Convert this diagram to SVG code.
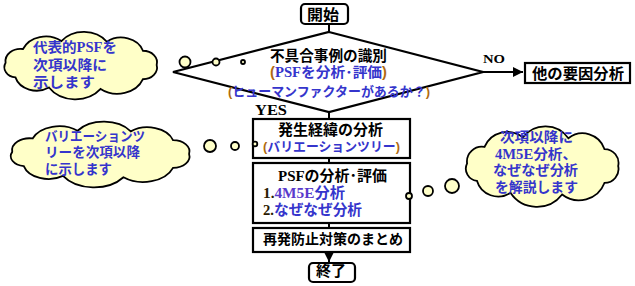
<svg xmlns="http://www.w3.org/2000/svg" xmlns:xlink="http://www.w3.org/1999/xlink" width="635" height="286" viewBox="0 0 635 286">
<style>
.jp{font-family:"Liberation Sans","Noto Sans CJK JP","Noto Sans CJK SC",sans-serif;}
.blk{fill:#000;font-weight:bold;}
.blu{fill:#3535CC;font-weight:bold;}
.lat{font-family:"Liberation Serif","Times New Roman",serif;font-weight:bold;}
.par{fill:#B06A10;}
.pur{fill:#5A3ACC;}
.box{fill:#fff;stroke:#000;stroke-width:2.2;}
.line{fill:none;stroke:#000;stroke-width:2;}
.cl{fill:#FFFFC8;stroke:#000;stroke-width:1.8;}
</style>
<defs>
<path id="cloud" vector-effect="non-scaling-stroke" d="M86,0 A16,16 0 0 1 70.4,19.5 A31,31 0 0 1 22.3,32.8 A36,36 0 0 1 -36.4,30.8 A25,25 0 0 1 -74.5,17 A14,14 0 0 1 -85.7,-3 A17,17 0 0 1 -65.9,-21.9 A28,28 0 0 1 -22.3,-32.8 A32,32 0 0 1 29.4,-31.9 A26,26 0 0 1 70.4,-19.5 A16,16 0 0 1 86,0 Z"/>
<marker id="arr" viewBox="0 0 10 10" refX="10" refY="5" markerWidth="5" markerHeight="5" markerUnits="strokeWidth" orient="auto">
<path d="M0,0 L10,5 L0,10 Z" fill="#000"/>
</marker>
</defs>
<rect width="635" height="286" fill="#fff"/>

<g id="connectors">
<line class="line" x1="329" y1="24" x2="329" y2="32"/>
<line class="line" x1="483" y1="72" x2="523" y2="72" marker-end="url(#arr)"/>
<line class="line" x1="329" y1="112" x2="329" y2="119"/>
<line class="line" x1="329" y1="158" x2="329" y2="163"/>
<line class="line" x1="329" y1="223" x2="329" y2="228"/>
<line class="line" x1="329" y1="252" x2="329" y2="262" marker-end="url(#arr)"/>
<text class="lat" x="483" y="63" font-size="13" textLength="22" lengthAdjust="spacingAndGlyphs">NO</text>
<text class="lat" x="255" y="115" font-size="14" textLength="32" lengthAdjust="spacingAndGlyphs">YES</text>
</g>

<g id="start">
<rect class="box" x="301" y="4" width="47" height="20" rx="4"/>
<text class="jp blk" x="307" y="20" font-size="15" textLength="32" lengthAdjust="spacingAndGlyphs">開始</text>
</g>

<g id="decision">
<path class="box" d="M329,32 L483,72 L329,112 L173,72 Z"/>
<text class="jp blk" x="270" y="60.5" font-size="14.5" textLength="117" lengthAdjust="spacingAndGlyphs">不具合事例の識別</text>
<text class="jp blu" x="270" y="77" font-size="14" textLength="117" lengthAdjust="spacingAndGlyphs"><tspan class="par">(</tspan><tspan class="lat">PSF</tspan>を分析･評価<tspan class="par">)</tspan></text>
<text class="jp blu" x="228" y="95.5" font-size="13" textLength="202" lengthAdjust="spacingAndGlyphs"><tspan class="par">(</tspan>ヒューマンファクターがあるか？<tspan class="par">)</tspan></text>
</g>

<g id="other">
<rect class="box" x="525" y="63" width="105" height="20"/>
<text class="jp blk" x="532" y="78.5" font-size="15" textLength="92" lengthAdjust="spacingAndGlyphs">他の要因分析</text>
</g>

<g id="step1">
<rect class="box" x="253" y="119" width="157" height="39"/>
<text class="jp blk" x="278" y="135" font-size="15" textLength="105" lengthAdjust="spacingAndGlyphs">発生経緯の分析</text>
<text class="jp blu" x="263" y="150.5" font-size="13" textLength="137" lengthAdjust="spacingAndGlyphs"><tspan class="par">(</tspan>バリエーションツリー<tspan class="par">)</tspan></text>
</g>

<g id="step2">
<rect class="box" x="253" y="163" width="157" height="60"/>
<text class="jp blk" x="278" y="181" font-size="14.5" textLength="109" lengthAdjust="spacingAndGlyphs"><tspan class="lat">PSF</tspan>の分析･評価</text>
<text class="jp blu" x="263" y="197.5" font-size="14.5" textLength="82" lengthAdjust="spacingAndGlyphs"><tspan class="lat" fill="#2a1a00">1.</tspan><tspan class="lat pur">4M5E</tspan>分析</text>
<text class="jp blu" x="263" y="215" font-size="14.5" textLength="99" lengthAdjust="spacingAndGlyphs"><tspan class="lat" fill="#2a1a00">2.</tspan>なぜなぜ分析</text>
</g>

<g id="step3">
<rect class="box" x="253" y="228" width="157" height="24"/>
<text class="jp blk" x="263" y="244" font-size="14" textLength="140" lengthAdjust="spacingAndGlyphs">再発防止対策のまとめ</text>
</g>

<g id="end">
<rect class="box" x="309" y="263" width="46" height="19" rx="4"/>
<text class="jp blk" x="316" y="276" font-size="15" textLength="30" lengthAdjust="spacingAndGlyphs">終了</text>
</g>

<g id="note1">
<use xlink:href="#cloud" href="#cloud" class="cl" transform="translate(81,65) scale(0.88,0.73)"/>
<circle class="cl" cx="185" cy="62" r="5.5"/>
<circle class="cl" cx="216" cy="62" r="3.5"/>
<circle class="cl" cx="243" cy="62" r="2"/>
<text class="jp blu" x="33" y="52" font-size="14" textLength="84" lengthAdjust="spacingAndGlyphs">代表的<tspan class="lat">PSF</tspan>を</text>
<text class="jp blu" x="33" y="70" font-size="14" textLength="74" lengthAdjust="spacingAndGlyphs">次項以降に</text>
<text class="jp blu" x="33" y="87" font-size="14" textLength="62" lengthAdjust="spacingAndGlyphs">示します</text>
</g>

<g id="note2">
<use xlink:href="#cloud" href="#cloud" class="cl" transform="translate(100.5,154) scale(1.03,0.71)"/>
<circle class="cl" cx="210" cy="146" r="6"/>
<circle class="cl" cx="235" cy="146" r="4"/>
<circle class="cl" cx="255" cy="144" r="2.3"/>
<text class="jp blu" x="45" y="141" font-size="13.5" textLength="100" lengthAdjust="spacingAndGlyphs">バリエーションツ</text>
<text class="jp blu" x="45" y="157" font-size="13.5" textLength="95" lengthAdjust="spacingAndGlyphs">リーを次項以降</text>
<text class="jp blu" x="45" y="174" font-size="13.5" textLength="67" lengthAdjust="spacingAndGlyphs">に示します</text>
</g>

<g id="note3">
<use xlink:href="#cloud" href="#cloud" class="cl" transform="translate(542.5,166) scale(0.88,0.87)"/>
<circle class="cl" cx="452" cy="186" r="7"/>
<circle class="cl" cx="428" cy="191" r="5"/>
<circle class="cl" cx="409" cy="196" r="3"/>
<text class="jp blu" x="500" y="142" font-size="14" textLength="73" lengthAdjust="spacingAndGlyphs">次項以降に</text>
<text class="jp blu" x="495" y="158.5" font-size="14" textLength="82" lengthAdjust="spacingAndGlyphs"><tspan class="lat">4M5E</tspan>分析、</text>
<text class="jp blu" x="493" y="175" font-size="14" textLength="85" lengthAdjust="spacingAndGlyphs">なぜなぜ分析</text>
<text class="jp blu" x="495" y="191.5" font-size="14" textLength="83" lengthAdjust="spacingAndGlyphs">を解説します</text>
</g>
</svg>
